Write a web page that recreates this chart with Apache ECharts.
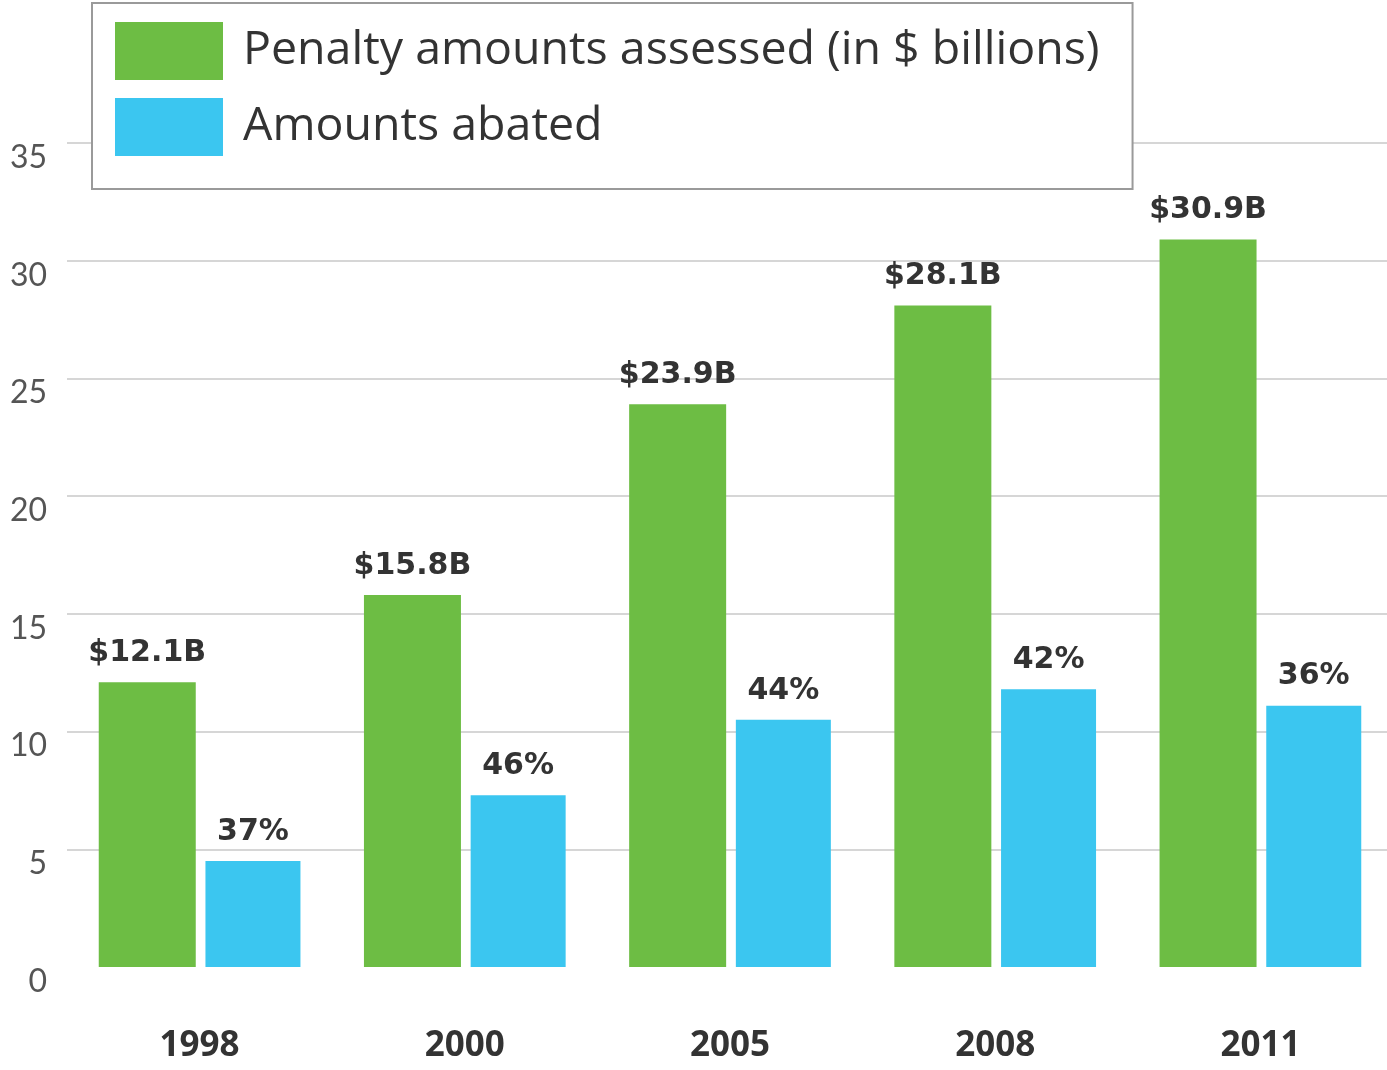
<!DOCTYPE html>
<html>
<head>
<meta charset="utf-8">
<script src="https://cdn.jsdelivr.net/npm/echarts@6/dist/echarts.min.js"></script>
<style>
  html, body { margin: 0; padding: 0; background: #fff; overflow: hidden; }
  #chart { width: 1393px; height: 1070px; }
</style>
</head>
<body>
<div id="chart"></div>
<script>
// Years shown on the category axis
const years = ['1998', '2000', '2005', '2008', '2011'];
// Penalty amounts assessed, $ billions
const assessed = [12.1, 15.8, 23.9, 28.1, 30.9];
// Amounts abated, $ billions
const abated = [4.5, 7.3, 10.5, 11.8, 11.1];
// Share of the assessed amount that was abated
const abatedShare = ['37%', '46%', '44%', '42%', '36%'];
// Value-axis ticks
const yTicks = [0, 5, 10, 15, 20, 25, 30, 35];

const seriesNames = ['Penalty amounts assessed (in $ billions)', 'Amounts abated'];
const green = '#6dbd44';
const blue = '#3bc6f0';

const chart = echarts.init(document.getElementById('chart'), null, { renderer: 'canvas' });

const barLabel = {
  show: true,
  position: 'top',
  distance: 14,
  color: '#333',
  fontSize: 30,
  fontWeight: 'bold',
  fontFamily: 'DejaVu Sans'
};

chart.setOption({
  animation: false,
  textStyle: { fontFamily: 'Lato' },
  grid: { left: 67, right: 0, top: 143, bottom: 103 },
  legend: {
    data: seriesNames,
    orient: 'vertical',
    left: 92,
    top: 3,
    padding: [19, 33, 33, 23],
    itemWidth: 108,
    itemHeight: 58,
    itemGap: 18,
    borderColor: '#9a9a9a',
    borderWidth: 2,
    backgroundColor: '#fff',
    icon: 'rect',
    textStyle: { fontSize: 46.5, color: '#333', fontFamily: 'Open Sans', padding: [3, 0, 0, 15] },
    z: 10
  },
  xAxis: {
    type: 'category',
    data: years,
    axisLine: { show: false },
    axisTick: { show: false },
    axisLabel: { margin: 62, fontSize: 35, fontWeight: 'bold', color: '#333', fontFamily: 'Open Sans' }
  },
  yAxis: {
    type: 'value',
    min: yTicks[0],
    max: yTicks[yTicks.length - 1],
    interval: yTicks[1] - yTicks[0],
    axisLine: { show: false },
    axisTick: { show: false },
    axisLabel: {
      margin: 20,
      fontSize: 32,
      color: '#555',
      verticalAlign: 'top',
      lineHeight: 29
    },
    splitLine: {
      lineStyle: {
        width: 2,
        color: yTicks.map((t, i) => (i === 0 ? 'rgba(0,0,0,0)' : '#d6d6d6'))
      }
    }
  },
  series: [
    {
      name: seriesNames[0],
      type: 'bar',
      data: assessed,
      barWidth: 97,
      barGap: '10%',
      itemStyle: { color: green },
      label: Object.assign({}, barLabel, {
        formatter: p => '$' + p.value.toFixed(1) + 'B'
      })
    },
    {
      name: seriesNames[1],
      type: 'bar',
      data: abated,
      barWidth: 95,
      itemStyle: { color: blue },
      label: Object.assign({}, barLabel, {
        formatter: p => abatedShare[p.dataIndex]
      })
    }
  ]
});
</script>
</body>
</html>
